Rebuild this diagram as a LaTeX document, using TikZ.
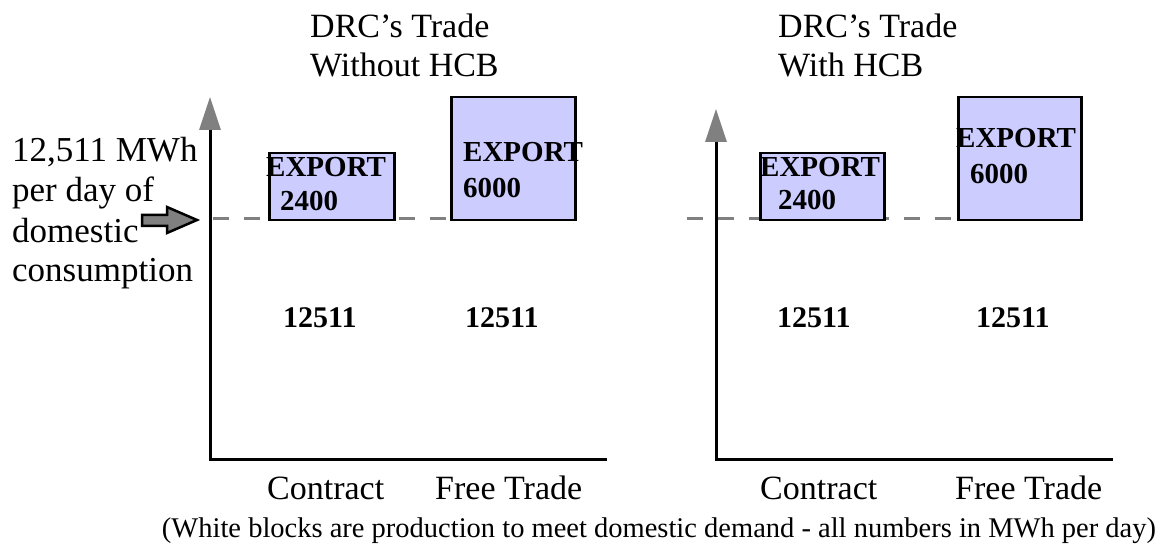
\documentclass[tikz,border=0pt]{standalone}
\usepackage{fontspec}
\setmainfont{Liberation Serif}
\usetikzlibrary{arrows.meta}
\definecolor{boxfill}{HTML}{CCCCFF}
\definecolor{midgray}{HTML}{808080}
\begin{document}
\begin{tikzpicture}[x=1pt,y=-1pt,
  txt/.style={anchor=base west, inner sep=0, font=\fontsize{34}{40}\selectfont},
  lbl/.style={anchor=base west, inner sep=0, font=\fontsize{35}{40}\selectfont},
  btxt/.style={anchor=base west, inner sep=0, font=\fontsize{29}{34}\selectfont\bfseries},
  num/.style={anchor=base west, inner sep=0, font=\fontsize{30}{34}\selectfont\bfseries},
  capt/.style={anchor=base, inner sep=0, font=\fontsize{28.5}{34}\selectfont},
  export/.style={draw=black, line width=2.5pt, fill=boxfill, inner sep=0, anchor=north west},
  axisline/.style={line width=3pt, line join=miter, {Triangle[length=33pt,width=21pt,color=midgray]}-},
  level/.style={draw=midgray, line width=3pt, dash pattern=on 16pt off 15pt},
]
\useasboundingbox (0,0) rectangle (1163,548);

% level (domestic consumption) lines
\coordinate (dL) at (213,219);
\coordinate (dLend) at (450,219);
\coordinate (dR) at (687,219);
\coordinate (dRend) at (957,219);
\draw[level] (dL) -- (dLend);
\draw[level] (dR) -- (dRend);

% axes
\coordinate (tL) at (210,97);
\coordinate (oL) at (210,459);
\coordinate (xL) at (607,459);
\coordinate (tR) at (716,109);
\coordinate (oR) at (716,459);
\coordinate (xR) at (1113,459);
\draw[axisline] (tL) -- (oL) -- (xL);
\draw[axisline] (tR) -- (oR) -- (xR);

% export boxes
\node[export, minimum width=125pt, minimum height=67pt] (bL1) at (268,152) {};
\node[export, minimum width=124pt, minimum height=123pt] (bL2) at (450,96) {};
\node[export, minimum width=124pt, minimum height=67pt] (bR1) at (759,152) {};
\node[export, minimum width=123pt, minimum height=123pt] (bR2) at (957,96) {};

\node[btxt] (eL1) at (266,177) {EXPORT};
\node[btxt] (vL1) at (280,211) {2400};
\node[btxt] (eL2) at (463,162) {EXPORT};
\node[btxt] (vL2) at (463,198) {6000};
\node[btxt] (eR1) at (760,177) {EXPORT};
\node[btxt] (vR1) at (778,210) {2400};
\node[btxt] (eR2) at (956,148) {EXPORT};
\node[btxt] (vR2) at (970,184) {6000};

% domestic production numbers
\node[num] (nL1) at (283,327) {12511};
\node[num] (nL2) at (465,327) {12511};
\node[num] (nR1) at (777,327) {12511};
\node[num] (nR2) at (976,327) {12511};

% titles
\node[txt] (tL1) at (310,38) {DRC’s Trade};
\node[txt] (tL2) at (310,77) {Without HCB};
\node[txt] (tR1) at (778,38) {DRC’s Trade};
\node[txt] (tR2) at (778,77) {With HCB};

% left label and block arrow
\node[lbl] (lab1) at (12,162) {12,511 MWh};
\node[lbl] (lab2) at (12,202) {per day of};
\node[lbl] (lab3) at (12,243) {domestic};
\node[lbl] (lab4) at (12,282) {consumption};
\draw[fill=midgray, line width=2.5pt, line join=miter]
  (142,215) -- (167,215) -- (167,207) -- (197,220) -- (167,233) -- (167,226) -- (142,226) -- cycle;

% category labels
\node[txt] (cL1) at (267,499) {Contract};
\node[txt] (cL2) at (435,499) {Free Trade};
\node[txt] (cR1) at (760,499) {Contract};
\node[txt] (cR2) at (955,499) {Free Trade};

% caption
\node[capt] (cap) at (659,537) {(White blocks are production to meet domestic demand - all numbers in MWh per day)};
\end{tikzpicture}
\end{document}
